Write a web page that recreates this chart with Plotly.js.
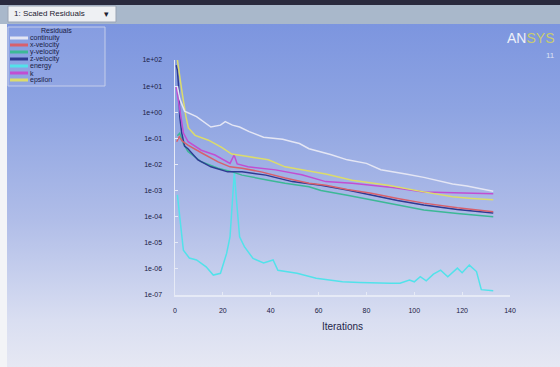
<!DOCTYPE html>
<html>
<head>
<meta charset="utf-8">
<script src="https://cdn.plot.ly/plotly-3.0.1.min.js"></script>
<style>
  html, body { margin: 0; padding: 0; }
  #chart { width: 560px; height: 367px;
    background: linear-gradient(to bottom, #2a2a3e 0px, #2a2a3e 5px, #7c95df 22px, #8ea4e2 110px, #b0bde8 220px, #d9def1 320px, #e6e8f3 367px); }
</style>
</head>
<body>
<div id="chart"></div>
<script>
// ---- data ----
const seriesNames = ['continuity', 'x-velocity', 'y-velocity', 'z-velocity', 'energy', 'k', 'epsilon'];
const yTickVals = [1e2, 1e1, 1e0, 1e-1, 1e-2, 1e-3, 1e-4, 1e-5, 1e-6, 1e-7];
const yTickText = ['1e+02', '1e+01', '1e+00', '1e-01', '1e-02', '1e-03', '1e-04', '1e-05', '1e-06', '1e-07'];
const xTickVals = [0, 20, 40, 60, 80, 100, 120, 140];

const iterContinuity = [1, 2, 4, 9, 15, 19, 21, 24, 27, 31, 37, 45, 49, 52, 56, 65, 72, 80, 86, 91, 97, 104, 110, 116, 122, 128, 133];
const resContinuity = [10, 3.2, 1.1, 0.68, 0.27, 0.32, 0.44, 0.32, 0.27, 0.18, 0.11, 0.093, 0.074, 0.063, 0.04, 0.024, 0.015, 0.011, 0.0063, 0.0051, 0.0042, 0.0032, 0.0024, 0.0018, 0.0015, 0.0012, 0.00095];

const iterXVel = [0.7, 1.8, 3, 5.4, 11, 18, 23, 28, 36, 46, 56, 63, 72, 82, 93, 104, 118, 133];
const resXVel = [0.074, 0.115, 0.079, 0.055, 0.028, 0.0126, 0.0081, 0.0072, 0.0052, 0.003, 0.0019, 0.0016, 0.0011, 0.00079, 0.0005, 0.00033, 0.00022, 0.000155];

const iterYVel = [1, 2, 3.5, 5.4, 11, 18, 24, 28, 39, 46, 56, 61, 72, 82, 93, 104, 118, 133];
const resYVel = [0.126, 0.158, 0.063, 0.031, 0.0126, 0.0072, 0.0052, 0.0039, 0.0025, 0.0019, 0.0014, 0.001, 0.00066, 0.00044, 0.00028, 0.00018, 0.000132, 0.0001];

const iterZVel = [0.5, 1, 1.5, 2, 2.8, 4, 5.4, 9.6, 15, 22, 28, 38, 49, 61, 72, 82, 93, 104, 118, 133];
const resZVel = [63, 40, 10, 0.66, 0.16, 0.05, 0.04, 0.0148, 0.0081, 0.0052, 0.0052, 0.0039, 0.0022, 0.0016, 0.00105, 0.00068, 0.00042, 0.00028, 0.00019, 0.000138];

const iterEnergy = [1, 2, 3.5, 6, 9, 13, 16, 19, 21.6, 23, 24.4, 24.8, 25.8, 27, 29, 32.6, 37, 41, 43, 51, 59, 65, 70, 77, 84, 90, 94, 98, 100, 102.5, 105, 108, 111, 114, 118, 120, 123, 126, 128, 130, 133];
const resEnergy = [6.8e-4, 7.4e-5, 5.2e-6, 2.6e-6, 2.2e-6, 1.2e-6, 5.8e-7, 6.8e-7, 4e-6, 1.7e-5, 1.9e-3, 5e-3, 3.3e-4, 1.7e-5, 7.1e-6, 2.5e-6, 1.7e-6, 2.2e-6, 8.9e-7, 6.8e-7, 4.4e-7, 3.7e-7, 3.2e-7, 3e-7, 2.8e-7, 2.8e-7, 2.8e-7, 3.7e-7, 3.2e-7, 5e-7, 3.5e-7, 6.3e-7, 8.9e-7, 5e-7, 1.07e-6, 7.1e-7, 1.4e-6, 7.9e-7, 1.6e-7, 1.5e-7, 1.45e-7];

const iterK = [0.5, 2, 3.5, 5.5, 11, 16.7, 23, 24.7, 26, 30.5, 42, 53, 63, 74, 91, 104, 118, 133];
const resK = [10, 1, 0.16, 0.074, 0.035, 0.023, 0.011, 0.023, 0.0105, 0.0081, 0.0062, 0.004, 0.0022, 0.0019, 0.0013, 0.00089, 0.00083, 0.00076];

const iterEps = [1, 2, 3, 4.6, 5.6, 8.4, 14, 19.5, 23.7, 30.5, 39, 46, 53, 63, 74, 89, 104, 116, 124, 133];
const resEps = [100, 20, 5.4, 0.66, 0.25, 0.13, 0.085, 0.045, 0.025, 0.02, 0.015, 0.0081, 0.0062, 0.0043, 0.0025, 0.0016, 0.00089, 0.00058, 0.0005, 0.00044];

// ---- styles ----
const colors = ['#e4e6f4', '#d8606c', '#3cb896', '#2e3a92', '#52e2ea', '#c24ed2', '#dcdc6a'];
const xs = [iterContinuity, iterXVel, iterYVel, iterZVel, iterEnergy, iterK, iterEps];
const ys = [resContinuity, resXVel, resYVel, resZVel, resEnergy, resK, resEps];
const drawOrder = [4, 2, 3, 1, 5, 6, 0];

const traces = drawOrder.map(i => ({
  x: xs[i], y: ys[i], name: seriesNames[i], type: 'scatter', mode: 'lines',
  line: { color: colors[i], width: 1.5 }, showlegend: false, hoverinfo: 'skip'
}));

// pixel -> paper helpers for decorations (plot area: x 175..510, y 60..295)
const L = 175, R = 510, T = 60, B = 295;
const PX = p => (p - L) / (R - L);
const PY = p => (B - p) / (B - T);

const shapes = [
  { type: 'rect', xref: 'paper', yref: 'paper', x0: PX(0), x1: PX(7), y0: PY(367), y1: PY(22), fillcolor: '#f3f4f7', line: { width: 0 }, layer: 'below' },
  { type: 'rect', xref: 'paper', yref: 'paper', x0: PX(0), x1: PX(560), y0: PY(5), y1: PY(0), fillcolor: '#2a2a3e', line: { width: 0 }, layer: 'below' },
  { type: 'rect', xref: 'paper', yref: 'paper', x0: PX(0), x1: PX(560), y0: PY(24), y1: PY(5), fillcolor: '#a9b8cb', line: { width: 0 }, layer: 'below' },
  { type: 'rect', xref: 'paper', yref: 'paper', x0: PX(8), x1: PX(116), y0: PY(22), y1: PY(6), fillcolor: '#eef0f3', line: { color: '#9aa4b4', width: 1 }, layer: 'below' },
  { type: 'rect', xref: 'paper', yref: 'paper', x0: PX(8), x1: PX(105), y0: PY(86), y1: PY(27), fillcolor: 'rgba(255,255,255,0.07)', line: { color: '#c4cdea', width: 1 }, layer: 'below' }
];

const narrow = 'Liberation Sans Narrow, Arial Narrow, sans-serif';
const annotations = [
  { xref: 'paper', yref: 'paper', x: PX(12), y: PY(14), text: '1: Scaled Residuals', showarrow: false, xanchor: 'left', yanchor: 'middle',
    font: { family: narrow, size: 8, color: '#1c2030' } },
  { xref: 'paper', yref: 'paper', x: PX(106), y: PY(14), text: '▾', showarrow: false, xanchor: 'center', yanchor: 'middle',
    font: { family: 'DejaVu Sans, sans-serif', size: 9, color: '#1c2030' } },
  { xref: 'paper', yref: 'paper', x: PX(56), y: PY(31), text: 'Residuals', showarrow: false, xanchor: 'center', yanchor: 'middle',
    font: { family: narrow, size: 7, color: '#1a2044' } },
  { xref: 'paper', yref: 'paper', x: PX(556), y: PY(38), text: '<span style="color:#eef0f8">AN</span><span style="color:#c8cc70">SYS</span>', showarrow: false, xanchor: 'right', yanchor: 'middle',
    font: { family: narrow, size: 14, color: '#eef0f8' } },
  { xref: 'paper', yref: 'paper', x: PX(544), y: PY(55), text: '11', showarrow: false, xanchor: 'left', yanchor: 'middle',
    font: { family: narrow, size: 8, color: '#dde2f4' } }
];

seriesNames.forEach((n, i) => {
  const yy = 38 + 7 * i;
  shapes.push({ type: 'line', xref: 'paper', yref: 'paper', x0: PX(10), x1: PX(28), y0: PY(yy), y1: PY(yy), line: { color: colors[i], width: 3 } });
  annotations.push({ xref: 'paper', yref: 'paper', x: PX(28), y: PY(yy), text: n, showarrow: false, xanchor: 'left', yanchor: 'middle',
    font: { family: narrow, size: 7, color: '#1a2044' } });
});

const tickFont = { family: narrow, size: 7, color: '#1a2044' };

const layout = {
  width: 560, height: 367,
  margin: { l: L, r: 560 - R, t: T, b: 367 - B },
  paper_bgcolor: 'rgba(0,0,0,0)', plot_bgcolor: 'rgba(0,0,0,0)',
  showlegend: false,
  xaxis: {
    range: [0, 140], tickvals: xTickVals, ticktext: xTickVals.map(String),
    showgrid: false, zeroline: false, showline: true, linecolor: '#e6eaf6', linewidth: 1.5,
    ticks: 'inside', ticklen: 3, tickcolor: '#e6eaf6', ticklabelstandoff: 8,
    tickfont: tickFont,
    title: { text: 'Iterations', standoff: 10, font: { family: narrow, size: 10, color: '#1e2448' } }
  },
  yaxis: {
    type: 'log', range: [-7, 2], tickvals: yTickVals, ticktext: yTickText,
    showgrid: false, zeroline: false, showline: true, linecolor: '#e6eaf6', linewidth: 1.5,
    ticks: 'inside', ticklen: 3, tickcolor: '#e6eaf6', ticklabelstandoff: 10,
    tickfont: tickFont
  },
  shapes: shapes,
  annotations: annotations
};

Plotly.newPlot('chart', traces, layout, { staticPlot: true, displayModeBar: false });
</script>
</body>
</html>
